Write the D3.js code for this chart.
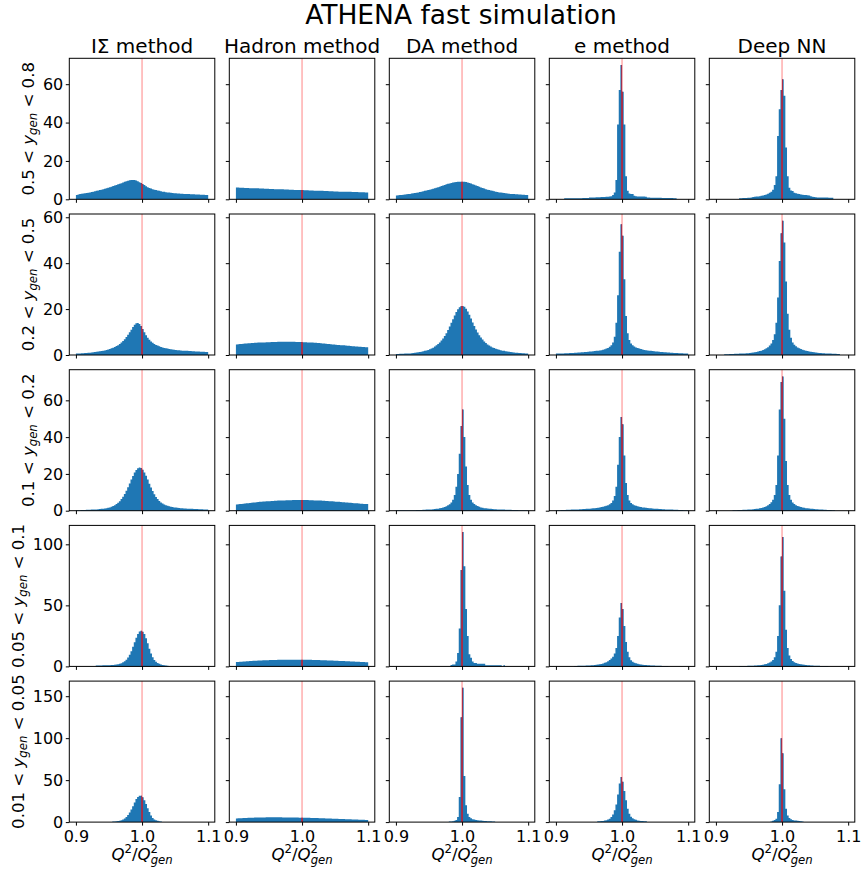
<!DOCTYPE html>
<html>
<head>
<meta charset="utf-8">
<script src="https://cdn.jsdelivr.net/npm/d3@7"></script>
<style>
    body { margin: 0; background: #fff; }
    svg text { font-family: "DejaVu Sans", sans-serif; fill: #000; }
</style>
</head>
<body>
<div id="container"></div>
<script>
// begin data //

const methods = ['I\u03a3 method', 'Hadron method', 'DA method', 'e method', 'Deep NN']
const yRanges = [['0.5', '0.8'], ['0.2', '0.5'], ['0.1', '0.2'], ['0.05', '0.1'], ['0.01', '0.05']]
const xTicks = [0.9, 1.0, 1.1]
const yTicks = [[0, 20, 40, 60], [0, 20, 40, 60], [0, 20, 40, 60], [0, 50, 100], [0, 50, 100, 150]]

// histogram bins: 80 bins of width 0.0025 between 0.9 and 1.1
const binStart = 0.9
const binWidth = 0.0025

// row 1: 0.5 < y < 0.8
const is1 = [2.3,2.5,2.7,2.9,3.0,3.2,3.3,3.4, 3.6,3.8,4.0,4.2,4.4,4.6,4.8,5.0, 5.2,5.5,5.7,6.0,6.3,6.6,6.9,7.2, 7.5,7.8,8.1,8.4,8.8,9.1,9.4,9.7, 9.9,10.1,10.1,10.0,9.8,9.4,8.9,8.5, 8.0,7.4,6.8,6.3,5.9,5.6,5.3,5.0, 4.8,4.6,4.4,4.2,4.0,3.9,3.7,3.6, 3.5,3.4,3.3,3.2,3.1,3.0,3.0,2.9, 2.9,2.8,2.8,2.7,2.7,2.6,2.6,2.6, 2.5,2.5,2.5,2.4,2.4,2.4,2.3,2.3]
const hd1 = [6.1,6.1,6.0,6.0,6.0,5.9,5.9,5.9,5.8,5.8, 5.8,5.7,5.7,5.7,5.6,5.6,5.6,5.5,5.5,5.5, 5.4,5.4,5.4,5.3,5.3,5.3,5.2,5.2,5.2,5.1, 5.1,5.1,5.0,5.0,5.0,4.9,4.9,4.9,4.8,4.8, 4.8,4.7,4.7,4.7,4.6,4.6,4.6,4.5,4.5,4.5, 4.4,4.4,4.4,4.3,4.3,4.3,4.2,4.2,4.2,4.1, 4.1,4.1,4.0,4.0,4.0,4.0,3.9,3.9,3.9,3.9, 3.8,3.8,3.8,3.8,3.7,3.7,3.7,3.7,3.6,3.6]
const da1 = [2.0,2.1,2.2,2.3,2.4,2.5,2.6,2.7, 2.8,3.0,3.1,3.3,3.4,3.6,3.8,4.0, 4.2,4.4,4.6,4.8,5.0,5.3,5.5,5.8, 6.0,6.3,6.6,6.9,7.2,7.5,7.8,8.1, 8.3,8.5,8.7,8.9,9.0,9.1,9.2,9.2, 9.2,9.1,9.0,8.8,8.5,8.2,7.9,7.6, 7.2,6.9,6.6,6.2,5.9,5.6,5.3,5.0, 4.8,4.6,4.4,4.2,4.0,3.8,3.6,3.5, 3.4,3.3,3.1,3.0,2.9,2.8,2.8,2.7, 2.6,2.6,2.5,2.5,2.4,2.4,2.3,2.3]
const e1 = [0,0,0,0,0,0.5,0.5,0.5,0.5,0.5, 0.6,0.6,0.6,0.6,0.6,0.6,0.7,0.7,0.7,0.7, 1.0,1.0,1.0,1.0,1.1,1.1,1.1,1.2,1.2,1.2, 1.3,1.3,1.4,1.6,2.3,3.5,10,39,57,70, 56,39,12,4.5,3.0,2.8,2.8,1.8,1.6,1.5, 1.5,1.5,1.4,1.4,1.3,0.9,0.9,0.8,0.8,0.8, 0.8,0.8,0.8,0.8,0.7,0.7,0.7,0.7,0.7,0.7, 0.7,0.6,0.6,0,0,0,0,0,0,0]
const nn1 = [0,0,0,0,0,0,0,0,0,0, 0,0,0,0,0.6,0.6,0.7,0.7,0.7,0.8, 0.8,0.9,1.2,1.3,1.4,1.5,1.6,1.8,2.0,2.2, 2.5,2.9,3.4,4.0,5.0,7.5,12,33,47,57, 62.6,54,27,12,6,4.6,4.3,3.4,3.1,2.9, 2.7,2.5,2.4,2.3,2.2,2.1,2.0,1.6,1.3,1.2, 1.1,1.0,1.0,1.0,0.9,0.9,0.9,0.9,0.8,0.8, 0.8,0,0,0,0,0,0,0,0,0]

// row 2: 0.2 < y < 0.5
const is2 = [0.6,0.7,0.7,0.8,0.8,0.9,0.9,1.0, 1.0,1.1,1.2,1.3,1.4,1.5,1.6,1.7, 1.9,2.0,2.2,2.4,2.6,2.9,3.2,3.5, 3.9,4.3,4.8,5.4,6.1,6.9,7.8,8.8, 9.9,11.0,12.2,13.2,13.8,13.9,13.5,12.6, 11.3,9.9,8.6,7.5,6.6,5.9,5.3,4.8, 4.4,4.1,3.8,3.5,3.3,3.1,2.9,2.8, 2.6,2.5,2.4,2.3,2.2,2.1,2.1,2.0, 1.9,1.9,1.8,1.8,1.7,1.7,1.6,1.6, 1.5,1.5,1.5,1.4,1.4,1.4,1.3,1.3]
const hd2 = [4.6,4.7,4.8,4.8,4.9,5.0,5.0,5.1,5.1,5.2, 5.2,5.3,5.3,5.4,5.4,5.5,5.5,5.5,5.6,5.6, 5.6,5.7,5.7,5.7,5.7,5.8,5.8,5.8,5.8,5.8, 5.8,5.8,5.8,5.8,5.8,5.8,5.7,5.7,5.7,5.7, 5.6,5.6,5.6,5.5,5.5,5.4,5.4,5.3,5.3,5.2, 5.2,5.1,5.0,5.0,4.9,4.8,4.8,4.7,4.6,4.6, 4.5,4.4,4.4,4.3,4.2,4.2,4.1,4.0,4.0,3.9, 3.8,3.8,3.7,3.7,3.6,3.6,3.5,3.5,3.4,3.4]
const da2 = [0.4,0.4,0.5,0.5,0.5,0.6,0.6,0.7, 0.7,0.8,0.9,1.0,1.1,1.2,1.3,1.4, 1.6,1.8,2.0,2.2,2.5,2.8,3.2,3.7, 4.2,4.8,5.5,6.3,7.2,8.3,9.5,10.9, 12.4,14.0,15.6,17.2,18.7,19.9,20.8,21.3, 21.4,21.0,20.2,19.0,17.5,15.9,14.2,12.6, 11.1,9.8,8.6,7.6,6.7,5.9,5.2,4.6, 4.1,3.7,3.3,3.0,2.7,2.5,2.3,2.1, 1.9,1.8,1.6,1.5,1.4,1.3,1.2,1.1, 1.0,1.0,0.9,0.9,0.8,0.8,0.7,0.7]
const e2 = [0.6,0.6,0.7,0.7,0.7,0.8,0.8,0.8,0.9,0.9, 0.9,1.0,1.0,1.1,1.1,1.2,1.2,1.3,1.3,1.4, 1.5,1.5,1.6,1.7,1.8,1.9,2.0,2.1,2.3,2.5, 2.8,3.1,3.6,4.3,5.5,8,14,26,45,57, 52,33,17,9.5,6.5,5,4.2,3.7,3.3,3.0, 2.8,2.6,2.4,2.2,2.1,2.0,1.9,1.8,1.7,1.6, 1.5,1.5,1.4,1.3,1.3,1.2,1.2,1.1,1.1,1.0, 1.0,0.9,0.9,0.9,0.8,0.8,0.8,0.7,0.7,0.7]
const nn2 = [0,0,0,0,0,0.3,0.3,0.3,0.4,0.4, 0.4,0.5,0.5,0.5,0.6,0.6,0.7,0.7,0.8,0.8, 0.9,1.0,1.1,1.2,1.3,1.5,1.7,1.9,2.2,2.5, 2.9,3.4,4.1,5.0,6.5,9,14,25,41,53, 58.5,49,32,18,11,7.5,5.5,4.5,3.8,3.3, 2.9,2.6,2.3,2.1,1.9,1.7,1.5,1.4,1.3,1.2, 1.1,1.0,0.9,0.9,0.8,0.8,0.7,0.7,0.6,0.6, 0.5,0.5,0.5,0.4,0.4,0,0,0,0,0]

// row 3: 0.1 < y < 0.2
const is3 = [0.3,0.3,0.3,0.4,0.4,0.4,0.5,0.5, 0.5,0.6,0.6,0.7,0.7,0.8,0.9,1.0, 1.1,1.2,1.4,1.6,1.8,2.1,2.5,3.0, 3.6,4.3,5.2,6.3,7.6,9.1,10.9,12.8, 14.8,16.9,18.9,20.7,22.1,23.1,23.5,23.2, 22.3,20.8,19.0,16.9,14.7,12.6,10.7,9.0, 7.5,6.3,5.3,4.5,3.9,3.4,3.0,2.7, 2.4,2.2,2.0,1.8,1.7,1.6,1.5,1.4, 1.3,1.2,1.2,1.1,1.1,1.0,1.0,0.9, 0.9,0.9,0.8,0.8,0.8,0.7,0.7,0.7]
const hd3 = [3.4,3.5,3.6,3.7,3.8,3.9,4.0,4.1,4.2,4.3, 4.4,4.5,4.6,4.7,4.8,4.9,5.0,5.0,5.1,5.2, 5.2,5.3,5.3,5.4,5.4,5.5,5.5,5.6,5.6,5.6, 5.7,5.7,5.7,5.7,5.8,5.8,5.8,5.8,5.8,5.8, 5.8,5.8,5.8,5.8,5.7,5.7,5.7,5.6,5.6,5.6, 5.5,5.5,5.4,5.4,5.3,5.3,5.2,5.1,5.1,5.0, 4.9,4.9,4.8,4.7,4.6,4.6,4.5,4.4,4.3,4.3, 4.2,4.1,4.0,4.0,3.9,3.8,3.8,3.7,3.6,3.6]
const da3 = [0.2,0.2,0.2,0.2,0.2,0.2,0.3,0.3,0.3,0.3, 0.3,0.3,0.4,0.4,0.4,0.4,0.5,0.5,0.6,0.6, 0.7,0.7,0.8,0.9,1.0,1.1,1.3,1.5,1.7,2.0, 2.4,2.9,3.5,4.5,6.0,8.5,13,20,31,46, 55,40,24,14,8.5,6,4.5,3.6,3.0,2.5, 2.1,1.8,1.6,1.4,1.3,1.2,1.1,1.0,0.9,0.8, 0.8,0.7,0.7,0.6,0.6,0.6,0.5,0.5,0.5,0.5, 0.4,0.4,0.4,0.4,0.3,0.3,0.3,0.3,0.3,0.3]
const e3 = [0.3,0.3,0.3,0.4,0.4,0.4,0.5,0.5,0.5,0.6, 0.6,0.6,0.7,0.7,0.8,0.8,0.9,0.9,1.0,1.0, 1.1,1.2,1.3,1.4,1.5,1.6,1.8,2.0,2.2,2.4, 2.7,3.0,3.5,4.2,5.5,8,13,25,40,51, 47,30,15,8.5,5.5,4.2,3.5,3.0,2.7,2.4, 2.2,2.0,1.8,1.7,1.6,1.5,1.4,1.3,1.2,1.1, 1.0,1.0,0.9,0.9,0.8,0.8,0.7,0.7,0.6,0.6, 0.6,0.5,0.5,0.5,0.4,0.4,0.4,0.3,0.3,0.3]
const nn3 = [0,0,0,0,0,0,0,0,0,0, 0.3,0.3,0.3,0.4,0.4,0.4,0.5,0.5,0.5,0.6, 0.6,0.7,0.8,0.9,1.0,1.1,1.3,1.5,1.7,2.0, 2.4,2.9,3.6,4.6,6,8.5,14,30,55,70, 73,50,27,14,8.5,6,4.5,3.6,3.0,2.6, 2.3,2.0,1.8,1.6,1.4,1.3,1.2,1.1,1.0,0.9, 0.8,0.8,0.7,0.6,0.6,0.5,0.5,0.4,0.4,0.4, 0.3,0.3,0,0,0,0,0,0,0,0]

// row 4: 0.05 < y < 0.1
const is4 = [0,0,0,0,0,0,0,0,0,0, 0,0,0.8,0.8,0.8,0.8,0.9,0.9,0.9,1.0, 1.0,1.1,1.2,1.3,1.5,1.8,2.1,2.6,3.3,4.2, 5.5,7.2,9.5,12.5,16,19.8,23.5,26.5,28.5,29.2, 28.3,26.5,23,19,14.5,10.5,7.5,5.3,3.8,2.8, 2.1,1.6,1.2,0.9,0.7,0.6,0,0,0,0, 0,0,0,0,0,0,0,0,0,0, 0,0,0,0,0,0,0,0,0,0]
const hd4 = [3.6,3.7,3.8,3.9,4.0,4.1,4.2,4.3,4.4,4.5, 4.6,4.6,4.7,4.8,4.8,4.9,5.0,5.0,5.1,5.1, 5.2,5.2,5.3,5.3,5.3,5.4,5.4,5.4,5.4,5.5, 5.5,5.5,5.5,5.5,5.5,5.5,5.5,5.5,5.5,5.5, 5.5,5.5,5.4,5.4,5.4,5.4,5.3,5.3,5.3,5.2, 5.2,5.1,5.1,5.0,5.0,4.9,4.9,4.8,4.8,4.7, 4.7,4.6,4.5,4.5,4.4,4.4,4.3,4.2,4.2,4.1, 4.0,4.0,3.9,3.8,3.8,3.7,3.6,3.6,3.5,3.4]
const da4 = [0,0,0,0,0,0,0,0,0,0, 0,0,0,0,0,0,0,0,0,0, 0,0,0,0,0,0,0,0,0,0, 0,0,0,1.2,1.5,1.6,4,11,31,79, 110,82,47,25,10,7,4,2.7,2.7,2.2, 2.2,2.2,2.2,2.2,1.0,1.0,1.0,1.0,1.0,1.0, 1.0,1.0,1.0,1.0,0,1.0,0,0,0,0, 0,0,0,0,0,0,0,0,0,0]
const e4 = [0,0,0,0,0,0,0,0,0,0, 0,0.4,0.4,0.5,0.5,0.5,0.6,0.6,0.7,0.7, 0.8,0.9,1.0,1.1,1.3,1.5,1.7,2.0,2.4,2.9, 3.5,4.3,5.3,6.5,8,10.5,15,25,40,52, 47,33,20,12,7.5,5,3.8,3.0,2.5,2.1, 1.8,1.6,1.4,1.2,1.1,1.0,0.9,0.8,0.7,0.7, 0.6,0.6,0.5,0.5,0.4,0.4,0.4,0.3,0,0, 0,0,0,0,0,0,0,0,0,0]
const nn4 = [0,0,0,0,0,0,0,0,0,0, 0,0,0,0,0.3,0.3,0.4,0.4,0.4,0.5, 0.5,0.6,0.6,0.7,0.8,0.9,1.0,1.2,1.4,1.7, 2.0,2.5,3.1,4.0,5.2,7.5,12,25,50,90, 106,62,30,15,9,6,4.5,3.5,2.8,2.3, 2.0,1.7,1.5,1.3,1.1,1.0,0.9,0.8,0.7,0.6, 0.6,0.5,0.5,0.4,0.4,0.3,0.3,0.3,0,0, 0,0,0,0,0,0,0,0,0,0]

// row 5: 0.01 < y < 0.05
const is5 = [0,0,0,0,0,0,0,0,0,0, 0,0,0,0,0,0,0,0,0,0, 0,0,0.6,0.8,1.0,1.2,1.6,2.2,3.0,4.3, 6.0,8.5,11.5,15,19,23.5,27.5,30,31.5,31.3, 29.5,26,21.5,16.5,12,8,5,3.2,2.2,1.5, 1.0,0.6,0,0,0,0,0,0,0,0, 0,0,0,0,0,0,0,0,0,0, 0,0,0,0,0,0,0,0,0,0]
const hd5 = [4.4,4.5,4.6,4.7,4.8,4.9,5.0,5.1,5.2,5.3, 5.3,5.4,5.4,5.5,5.5,5.6,5.6,5.6,5.7,5.7, 5.7,5.7,5.7,5.7,5.7,5.7,5.7,5.7,5.6,5.6, 5.6,5.6,5.5,5.5,5.5,5.4,5.4,5.4,5.3,5.3, 5.3,5.2,5.2,5.1,5.1,5.0,5.0,4.9,4.8,4.8, 4.7,4.6,4.6,4.5,4.4,4.3,4.3,4.2,4.1,4.0, 4.0,3.9,3.8,3.7,3.6,3.6,3.5,3.4,3.3,3.3, 3.2,3.1,3.0,3.0,2.9,2.8,2.8,2.7,2.6,2.6]
const da5 = [0,0,0,0,0,0,0,0,0,0, 0,0,0,0,0,0,0,0,0,0, 0,0,0,0,0,0,0,0,0,0, 0,0,0.6,0.8,1.0,1.5,2.5,6,30,125, 160,55,20,10,6,4.5,3.5,3.0,2.6,2.3, 2.0,1.8,1.6,1.4,1.2,1.1,1.0,0.9,0.8,0.7, 0,0,0,0,0,0,0,0,0,0, 0,0,0,0,0,0,0,0,0,0]
const e5 = [0,0,0,0,0,0,0,0,0,0, 0,0,0,0,0,0,0,0,0,0, 0,0,0,0,0,1.0,1.0,1.2,1.4,1.8, 2.3,3,4,6,9,14,21,33,46,53.6, 48,37,26,16,10,6.5,4.5,3.5,2.8,1.8, 1.5,1.3,1.2,1.0,1.0,0,0,0,0,0, 0,0,0,0,0,0,0,0,0,0, 0,0,0,0,0,0,0,0,0,0]
const nn5 = [0,0,0,0,0,0,0,0,0,0, 0,0,0,0,0,0,0,0,0,0, 0,0,0,0,0,0,0,0,0,0, 0,0,0,0.8,1.5,2.5,4,12,45,100, 82,39,16,8,5,3.5,2.5,2.0,1.8,1.5, 1.2,1.0,0.8,0,0,0,0,0,0,0, 0,0,0,0,0,0,0,0,0,0, 0,0,0,0,0,0,0,0,0,0]

const counts = [
    [is1, hd1, da1, e1, nn1],
    [is2, hd2, da2, e2, nn2],
    [is3, hd3, da3, e3, nn3],
    [is4, hd4, da4, e4, nn4],
    [is5, hd5, da5, e5, nn5]
]

// end data //

const width = 861
const height = 872
const left0 = 69.3
const colPitch = 160
const panelW = 145.5
const top0 = 58.3
const rowPitch = 155.7
const panelH = 141
const blue = '#1f77b4'
const tickFont = 16
const labelFont = 16.6

const svg = d3
    .select('#container')
    .append('svg')
    .attr('width', width)
    .attr('height', height)

svg.append('text')
    .attr('x', 461)
    .attr('y', 24)
    .attr('text-anchor', 'middle')
    .style('font-size', '26.5px')
    .text('ATHENA fast simulation')

const x = d3.scaleLinear().domain([0.89, 1.11]).range([0, panelW])

const area = (y) =>
    d3
        .area()
        .x((d) => x(d[0]))
        .y0(y(0))
        .y1((d) => y(d[1]))
        .curve(d3.curveStepAfter)

counts.forEach((row, r) => {
    const rowMax = d3.max(row, (vals) => d3.max(vals))
    const y = d3.scaleLinear().domain([0, rowMax * 1.05]).range([panelH, 0])
    let labelLeft = 0

    row.forEach((vals, c) => {
        const g = svg
            .append('g')
            .attr('transform', `translate(${left0 + c * colPitch},${top0 + r * rowPitch})`)

        const pts = vals.map((v, i) => [binStart + i * binWidth, v])
        pts.push([binStart + vals.length * binWidth, vals[vals.length - 1]])
        const d = area(y)(pts)

        const clipId = `hist-${r}-${c}`
        g.append('clipPath').attr('id', clipId).append('path').attr('d', d)

        g.append('path').attr('d', d).attr('fill', blue)

        // reference line at 1
        g.append('line')
            .attr('x1', x(1)).attr('x2', x(1))
            .attr('y1', 0).attr('y2', panelH)
            .attr('stroke', 'rgba(255,0,0,0.3)')
            .attr('stroke-width', 1.6)
        g.append('line')
            .attr('x1', x(1)).attr('x2', x(1))
            .attr('y1', 0).attr('y2', panelH)
            .attr('stroke', '#b3263f')
            .attr('stroke-width', 1.6)
            .attr('clip-path', `url(#${clipId})`)

        const xAxis = d3
            .axisBottom(x)
            .tickValues(xTicks)
            .tickSize(3.5)
            .tickPadding(5.5)
            .tickFormat(r === counts.length - 1 ? d3.format('.1f') : '')
        const gx = g.append('g').attr('transform', `translate(0,${panelH})`).call(xAxis)

        const yAxis = d3
            .axisLeft(y)
            .tickValues(yTicks[r])
            .tickSize(3.5)
            .tickPadding(2.5)
            .tickFormat(c === 0 ? d3.format('d') : '')
        const gy = g.append('g').call(yAxis)

        ;[gx, gy].forEach((ax) => {
            ax.select('.domain').remove()
            ax.selectAll('line').attr('stroke', '#000').attr('stroke-width', 1)
            ax.selectAll('text').style('font-size', `${tickFont}px`).attr('fill', '#000')
        })

        g.append('rect')
            .attr('width', panelW)
            .attr('height', panelH)
            .attr('fill', 'none')
            .attr('stroke', '#000')
            .attr('stroke-width', 1)

        if (r === 0) {
            g.append('text')
                .attr('x', panelW / 2)
                .attr('y', -5.8)
                .attr('text-anchor', 'middle')
                .style('font-size', '20px')
                .text(methods[c])
        }

        if (r === counts.length - 1) {
            const t = g.append('text')
                .attr('x', panelW / 2)
                .attr('y', panelH + 37.5)
                .attr('text-anchor', 'middle')
                .style('font-size', `${labelFont}px`)
            t.append('tspan').style('font-style', 'italic').text('Q')
            t.append('tspan').style('font-size', '11.7px').attr('dy', -7).text('2')
            t.append('tspan').attr('dy', 7).text('/')
            t.append('tspan').style('font-style', 'italic').text('Q')
            t.append('tspan').style('font-size', '11.7px').attr('dy', -7).text('2')
            t.append('tspan')
                .style('font-size', '11.7px')
                .style('font-style', 'italic')
                .attr('dx', -7.4)
                .attr('dy', 11)
                .text('gen')
        }

        if (c === 0) {
            labelLeft = gy.node().getBBox().x
        }
    })

    // row label
    const cy = top0 + r * rowPitch + panelH / 2
    const lx = left0 + labelLeft - 9
    const t = svg
        .append('text')
        .attr('transform', `translate(${lx},${cy}) rotate(-90)`)
        .attr('text-anchor', 'middle')
        .style('font-size', `${labelFont}px`)
    t.append('tspan').text(`${yRanges[r][0]} < `)
    t.append('tspan').style('font-style', 'italic').text('y')
    t.append('tspan')
        .style('font-style', 'italic')
        .style('font-size', '11.7px')
        .attr('dy', 3.5)
        .text('gen')
    t.append('tspan').attr('dy', -3.5).text(` < ${yRanges[r][1]}`)
})
</script>
</body>
</html>
